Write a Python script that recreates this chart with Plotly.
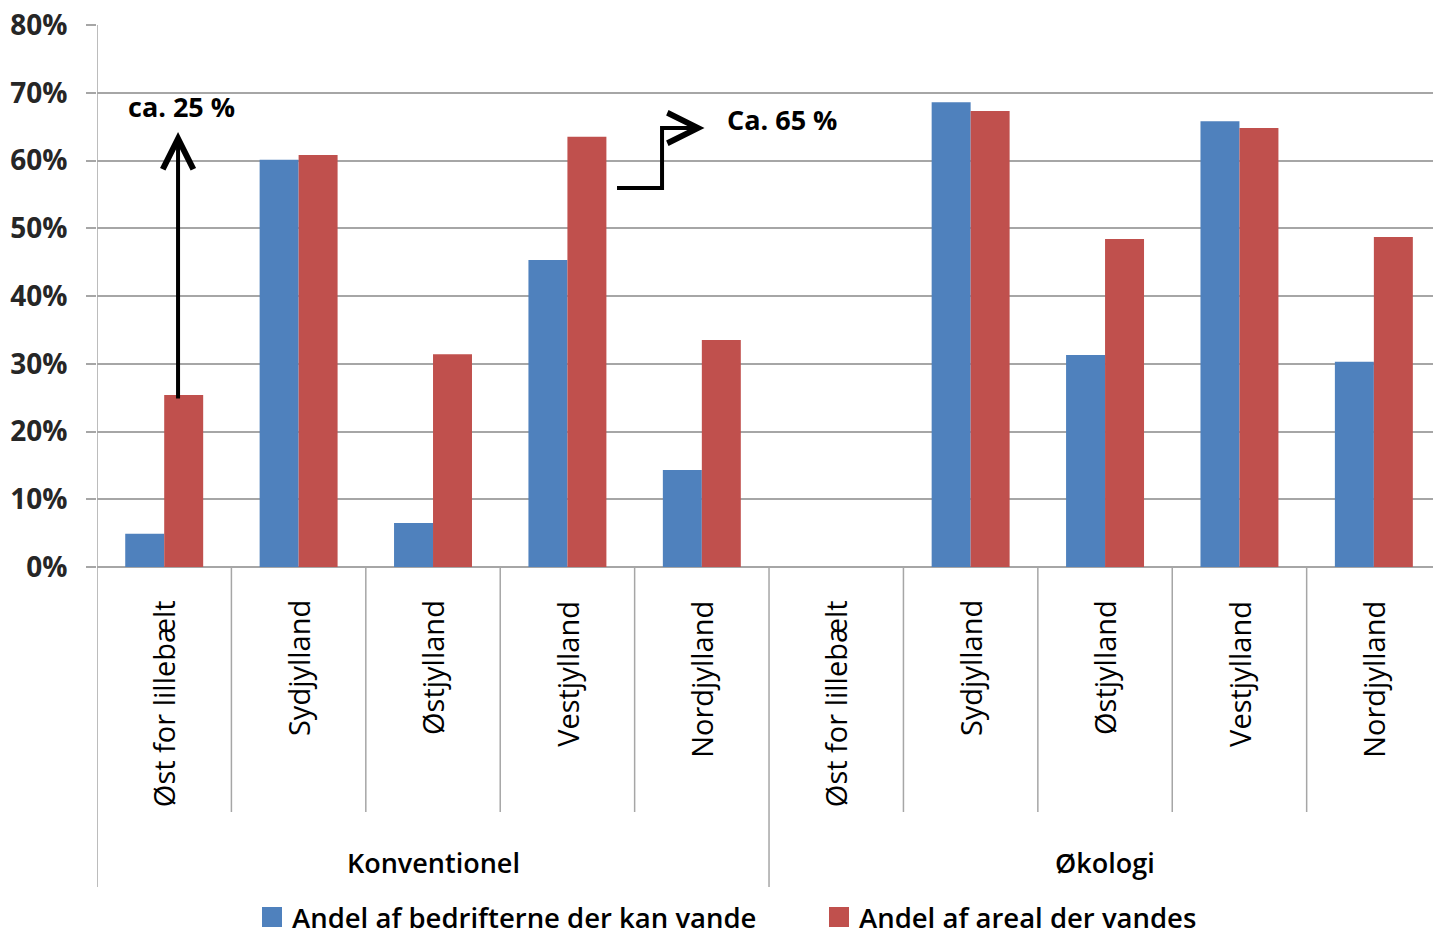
import plotly.graph_objects as go

groups = ["Konventionel", "Økologi"]
regions = ["Øst for lillebælt", "Sydjylland", "Østjylland", "Vestjylland", "Nordjylland"]
categories = [(g, r) for g in groups for r in regions]

series_names = ["Andel af bedrifterne der kan vande", "Andel af areal der vandes"]
bedrifter = [0.049, 0.601, 0.065, 0.453, 0.143, 0.0, 0.686, 0.313, 0.658, 0.303]
areal = [0.254, 0.608, 0.314, 0.635, 0.335, 0.0, 0.673, 0.484, 0.648, 0.487]
colors = ["#4F81BD", "#C0504D"]
y_ticks = [0, 0.1, 0.2, 0.3, 0.4, 0.5, 0.6, 0.7, 0.8]

FONT = "Open Sans"
GRID = "#A6A6A6"

xpos = list(range(len(categories)))

fig = go.Figure()
for name, vals, col in zip(series_names, [bedrifter, areal], colors):
    fig.add_trace(go.Bar(x=xpos, y=vals, name=name, marker=dict(color=col, line=dict(width=0)),
                         showlegend=False))
    fig.add_trace(go.Scatter(x=[None], y=[None], mode="markers", name=name,
                             marker=dict(symbol="square", size=16, color=col,
                                         line=dict(color=col, width=4))))

shapes = []
y_cat_bottom = -0.452
y_grp_bottom = -0.5904
shapes.append(dict(type="line", xref="x", yref="paper", x0=-0.5, x1=-0.5, y0=1, y1=y_grp_bottom,
                   line=dict(color=GRID, width=1.5)))
for i in range(1, len(categories)):
    bottom = y_grp_bottom if i == len(regions) else y_cat_bottom
    shapes.append(dict(type="line", xref="x", yref="paper", x0=i - 0.5, x1=i - 0.5, y0=0, y1=bottom,
                       line=dict(color=GRID, width=1.5)))
# elbow arrow line
shapes.append(dict(type="path", xref="x", yref="y",
                   path="M 3.369 0.5594 L 3.704 0.5594 L 3.704 0.648 L 3.85 0.648",
                   line=dict(color="black", width=4)))

annotations = []
for i, (g, r) in enumerate(categories):
    annotations.append(dict(x=i, y=-0.058, xref="x", yref="paper", text=r, showarrow=False,
                            textangle=-90, xanchor="center", yanchor="top",
                            font=dict(family=FONT, size=29, color="black")))
for gi, g in enumerate(groups):
    annotations.append(dict(x=gi * len(regions) + (len(regions) - 1) / 2, y=-0.5443, xref="x", yref="paper",
                            text=g, showarrow=False, xanchor="center", yanchor="middle",
                            font=dict(family=FONT, size=27, color="black", weight=600)))
# text callouts
annotations.append(dict(x=0.129, y=0.679, xref="x", yref="y", text="<b>ca. 25 %</b>", showarrow=False,
                        font=dict(family=FONT, size=27, color="black")))
annotations.append(dict(x=4.597, y=0.66, xref="x", yref="y", text="<b>Ca. 65 %</b>", showarrow=False,
                        font=dict(family=FONT, size=27, color="black")))
# vertical arrow
annotations.append(dict(x=0.103, y=0.642, ax=0.103, ay=0.2465, xref="x", yref="y", axref="x", ayref="y",
                        text="", showarrow=True, arrowhead=5, arrowsize=1.5, arrowwidth=4,
                        arrowcolor="black"))
# elbow arrow head
annotations.append(dict(x=4.02, y=0.648, ax=3.70, ay=0.648, xref="x", yref="y", axref="x", ayref="y",
                        text="", showarrow=True, arrowhead=5, arrowsize=1.5, arrowwidth=4,
                        arrowcolor="black"))

fig.update_layout(
    width=1433, height=938,
    margin=dict(l=97, r=0, t=25, b=371, autoexpand=False),
    paper_bgcolor="white", plot_bgcolor="white",
    barmode="group", bargap=0.42, bargroupgap=0,
    font=dict(family=FONT, color="black"),
    shapes=shapes, annotations=annotations,
    legend=dict(orientation="h", x=(252 - 97) / 1336, xanchor="left", y=(567 - 917) / 542, yanchor="middle",
                font=dict(family=FONT, size=27.5, color="black", weight=600),
                entrywidth=522, entrywidthmode="pixels", itemwidth=30),
    xaxis=dict(range=[-0.5, 9.44], showticklabels=False, showgrid=False, zeroline=False,
               showline=False, fixedrange=True),
    yaxis=dict(range=[0, 0.8], tickvals=y_ticks, tickformat=".0%", showgrid=True, gridcolor=GRID,
               gridwidth=1.5, zeroline=True, zerolinecolor=GRID, zerolinewidth=1.5,
               showline=False, ticks="outside", ticklen=10, tickwidth=1.5, tickcolor=GRID,
               ticklabelstandoff=13,
               tickfont=dict(family=FONT, size=28, color="#262626", weight="bold")),
)
fig.write_html("out.html", config={"displayModeBar": False},
               post_script="document.body.style.margin='0';document.body.style.overflow='hidden';")
